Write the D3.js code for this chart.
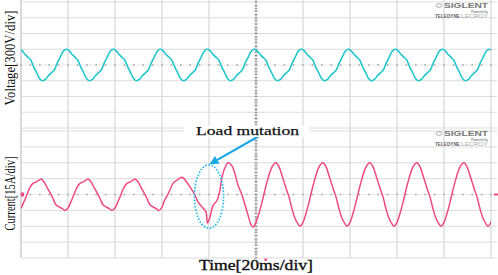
<!DOCTYPE html>
<html><head><meta charset="utf-8">
<script src="https://cdn.jsdelivr.net/npm/d3@7"></script>
<style>html,body{margin:0;padding:0;background:#fff;overflow:hidden}</style>
</head><body><svg id="c" width="498" height="275"></svg>
<script>
// ---- data (time in ms, amplitude in divisions) ----
const timeTicks = [0,20,40,60,80,100,120,140,160,180,200];
const divTicks = [-4,-3,-2,-1,0,1,2,3,4];
const minorTimeTicks = [0,4,8,12,16,20,24,28,32,36,40,44,48,52,56,60,64,68,72,76,80,84,88,92,96,100,104,108,112,116,120,124,128,132,136,140,144,148,152,156,160,164,168,172,176,180,184,188,192,196,200];
const minorDivTicks = [-4,-3.8,-3.6,-3.4,-3.2,-3,-2.8,-2.6,-2.4,-2.2,-2,-1.8,-1.6,-1.4,-1.2,-1,-0.8,-0.6,-0.4,-0.2,0,0.2,0.4,0.6,0.8,1,1.2,1.4,1.6,1.8,2,2.2,2.4,2.6,2.8,3,3.2,3.4,3.6,3.8,4];

const voltageStart = -0.85;   // ms, first sample
const voltageStep = 1.25;     // ms between samples
const voltageValues = [
 1.0,0.92,0.68,0.5,0.32,-0.12,-0.48,-0.86,-1.0,-0.92,-0.68,-0.5,-0.32,0.12,0.48,0.86,
 1.0,0.92,0.68,0.5,0.32,-0.12,-0.48,-0.86,-1.0,-0.92,-0.68,-0.5,-0.32,0.12,0.48,0.86,
 1.0,0.92,0.68,0.5,0.32,-0.12,-0.48,-0.86,-1.0,-0.92,-0.68,-0.5,-0.32,0.12,0.48,0.86,
 1.0,0.92,0.68,0.5,0.32,-0.12,-0.48,-0.86,-1.0,-0.92,-0.68,-0.5,-0.32,0.12,0.48,0.86,
 1.0,0.92,0.68,0.5,0.32,-0.12,-0.48,-0.86,-1.0,-0.92,-0.68,-0.5,-0.32,0.12,0.48,0.86,
 1.0,0.92,0.68,0.5,0.32,-0.12,-0.48,-0.86,-1.0,-0.92,-0.68,-0.5,-0.32,0.12,0.48,0.86,
 1.0,0.92,0.68,0.5,0.32,-0.12,-0.48,-0.86,-1.0,-0.92,-0.68,-0.5,-0.32,0.12,0.48,0.86,
 1.0,0.92,0.68,0.5,0.32,-0.12,-0.48,-0.86,-1.0,-0.92,-0.68,-0.5,-0.32,0.12,0.48,0.86,
 1.0,0.92,0.68,0.5,0.32,-0.12,-0.48,-0.86,-1.0,-0.92,-0.68,-0.5,-0.32,0.12,0.48,0.86,
 1.0,0.92,0.68,0.5,0.32,-0.12,-0.48,-0.86,-1.0,-0.92,-0.68,-0.5,-0.32,0.12,0.48,0.86,
 1.0,0.92,0.68
];

const currentTime = [
 -1.28,0.0,1.27,2.55,3.83,5.1,6.38,7.66,8.51,9.78,11.06,12.34,13.61,14.89,16.17,17.44,
 18.72,20.0,21.27,22.55,23.83,25.1,26.38,27.66,28.51,29.78,31.06,32.34,33.61,34.89,36.17,37.44,
 38.72,40.0,41.27,42.55,43.83,45.1,46.38,47.66,48.51,49.78,51.06,52.34,53.61,54.89,56.17,57.44,
 58.72,60.0,60.85,62.13,63.4,64.68,66.38,68.51,70.64,72.77,74.04,75.32,77.45,78.72,79.36,80.43,81.7,83.4,84.68,85.53,86.81,88.09,89.79,91.06,92.34,94.04,95.32,96.6,97.87,
 98.72,100.0,101.27,102.55,103.83,105.1,106.38,107.66,108.51,109.78,111.06,112.34,113.19,114.04,115.32,116.59,117.87,
 118.72,120.0,121.27,122.55,123.83,125.1,126.38,127.66,128.51,129.78,131.06,132.34,133.19,134.04,135.32,136.59,137.87,
 138.72,140.0,141.27,142.55,143.83,145.1,146.38,147.66,148.51,149.78,151.06,152.34,153.19,154.04,155.32,156.59,157.87,
 158.72,160.0,161.27,162.55,163.83,165.1,166.38,167.66,168.51,169.78,171.06,172.34,173.19,174.04,175.32,176.59,177.87,
 178.72,180.0,181.27,182.55,183.83,185.1,186.38,187.66,188.51,189.78,191.06,192.34,193.19,194.04,195.32,196.59,197.87,
 198.72,200.0,201.27
];
const currentValue = [
 -1.0,-0.85,-0.45,0.0,0.45,0.7,0.78,0.9,0.97,0.8,0.45,0.12,-0.25,-0.65,-0.78,-0.88,
 -1.0,-0.85,-0.45,0.0,0.45,0.7,0.78,0.9,0.97,0.8,0.45,0.12,-0.25,-0.65,-0.78,-0.88,
 -1.0,-0.85,-0.45,0.0,0.45,0.7,0.78,0.9,0.97,0.8,0.45,0.12,-0.25,-0.65,-0.78,-0.88,
 -1.0,-0.8,-0.45,-0.1,0.3,0.7,0.9,1.08,0.75,0.28,-0.03,-0.47,-0.85,-1.1,-1.8,-1.4,-0.7,-0.38,0.28,1.1,1.7,2.0,1.8,1.3,0.6,-0.03,-0.66,-1.3,-1.9,
 -2.05,-1.75,-1.2,-0.5,0.3,1.0,1.6,1.92,2.0,1.75,1.2,0.6,0.2,-0.15,-0.9,-1.5,-1.85,
 -2.0,-1.75,-1.2,-0.5,0.3,1.0,1.6,1.92,2.0,1.75,1.2,0.6,0.2,-0.15,-0.9,-1.5,-1.85,
 -2.0,-1.75,-1.2,-0.5,0.3,1.0,1.6,1.92,2.0,1.75,1.2,0.6,0.2,-0.15,-0.9,-1.5,-1.85,
 -2.0,-1.75,-1.2,-0.5,0.3,1.0,1.6,1.92,2.0,1.75,1.2,0.6,0.2,-0.15,-0.9,-1.5,-1.85,
 -2.0,-1.75,-1.2,-0.5,0.3,1.0,1.6,1.92,2.0,1.75,1.2,0.6,0.2,-0.15,-0.9,-1.5,-1.85,
 -2.0,-1.75,-1.2
];

// annotation anchors in data units (current panel)
const mutationEllipse = {t: 80.0, v: -0.13, halfT: 6.2, halfV: 2.0};
const arrowFrom = {t: 101.5, v: 3.7};
const arrowTo = {t: 80.2, v: 1.9};
const mutationLabel = {t: 74.5, v: 3.75, text: "Load mutation"};

// ---- drawing ----
const svg = d3.select("#c");
const x = d3.scaleLinear().domain([0,200]).range([21,491]);
const yV = d3.scaleLinear().domain([-4,4]).range([128,2]);
const yI = d3.scaleLinear().domain([-4,4]).range([258,131]);

const grid = svg.append("g");
grid.selectAll("line.v").data(timeTicks).join("line")
  .attr("x1", d=>x(d)).attr("x2", d=>x(d)).attr("y1", 0).attr("y2", yI(-4))
  .attr("stroke", d=> d===100 ? "#8a8a8a" : (d===0 ? "#b8b8b8" : "#d4d4d4"))
  .attr("stroke-width", 1.1)
  .attr("stroke-dasharray", d=> d===100 ? "3,1.5" : null);
[yV, yI].forEach(y => {
  grid.append("g").selectAll("line").data(divTicks).join("line")
    .attr("x1", x(0)).attr("x2", 497).attr("y1", d=>y(d)).attr("y2", d=>y(d))
    .attr("stroke", d=> d===0 ? "none" : "#dcdcdc").attr("stroke-width", 1);
  grid.append("line").attr("x1", x(0)).attr("x2", 497).attr("y1", y(0)).attr("y2", y(0))
    .attr("stroke", "#e4e4e4").attr("stroke-width", 0.8);
  grid.append("g").selectAll("rect").data(minorTimeTicks).join("rect")
    .attr("x", d=>x(d)-0.8).attr("y", y(0)-0.8).attr("width", 1.6).attr("height", 1.6)
    .attr("fill", "#a8a8a8");
  grid.append("g").selectAll("rect").data(minorDivTicks).join("rect")
    .attr("x", x(100)-1.6).attr("y", d=>y(d)-0.5).attr("width", 3.2).attr("height", 1)
    .attr("fill", "#9a9a9a");
});

svg.append("defs").append("clipPath").attr("id","clip")
  .append("rect").attr("x", x(0)).attr("y", 0).attr("width", x(200)-x(0)).attr("height", 275);

const vData = voltageValues.map((v,i)=>({t: voltageStart + i*voltageStep, v}));
const iData = currentTime.map((t,i)=>({t, v: currentValue[i]}));

svg.append("path").datum(vData).attr("clip-path","url(#clip)")
  .attr("d", d3.line().x(d=>x(d.t)).y(d=>yV(d.v)).curve(d3.curveCatmullRom))
  .attr("fill","none").attr("stroke","#1fc6cc").attr("stroke-width",1.6);
svg.append("path").datum(iData).attr("clip-path","url(#clip)")
  .attr("d", d3.line().x(d=>x(d.t)).y(d=>yI(d.v)).curve(d3.curveCatmullRom))
  .attr("fill","none").attr("stroke","#ee4a84").attr("stroke-width",1.5);

// pink channel markers
svg.append("rect").attr("x", x(0)).attr("y", yI(0)-2).attr("width", 3).attr("height", 4).attr("fill", "#ee4a84");
svg.append("rect").attr("x", 494).attr("y", yI(0)-1).attr("width", 4).attr("height", 2).attr("fill", "#ee4a84");
svg.append("rect").attr("x", x(104)-1).attr("y", yI(-4)+0.5).attr("width", 2.5).attr("height", 2.5).attr("fill", "#ee4a84");

// logos
function logo(y0){
  const g = svg.append("g").attr("font-family","Liberation Sans, Arial, sans-serif");
  g.append("ellipse").attr("cx", 439).attr("cy", y0+2.5).attr("rx", 3).attr("ry", 1.8).attr("fill","none").attr("stroke","#999").attr("stroke-width",0.8);
  g.append("text").attr("x", 488).attr("y", y0+5).attr("text-anchor","end").attr("font-size",6.5).attr("font-weight","bold").attr("fill","#777").attr("textLength",44).attr("lengthAdjust","spacingAndGlyphs").text("SIGLENT");
  g.append("text").attr("x", 488).attr("y", y0+9.8).attr("text-anchor","end").attr("font-size",3).attr("font-weight","bold").attr("fill","#888").text("Powered by");
  g.append("text").attr("x", 460).attr("y", y0+14.5).attr("text-anchor","end").attr("font-size",4.5).attr("font-weight","bold").attr("fill","#666").attr("textLength",25).attr("lengthAdjust","spacingAndGlyphs").text("TELEDYNE");
  g.append("text").attr("x", 461).attr("y", y0+14.5).attr("font-size",4.5).attr("fill","#aaa").attr("textLength",27).attr("lengthAdjust","spacingAndGlyphs").text("LECROY");
}
logo(3); logo(131);

// annotation
const acol = "#1aa8e4";
svg.append("ellipse")
  .attr("cx", x(mutationEllipse.t)).attr("cy", yI(mutationEllipse.v))
  .attr("rx", x(mutationEllipse.t+mutationEllipse.halfT)-x(mutationEllipse.t))
  .attr("ry", yI(mutationEllipse.v)-yI(mutationEllipse.v+mutationEllipse.halfV))
  .attr("fill","none").attr("stroke","#2ab8ea").attr("stroke-width",1.7).attr("stroke-dasharray","1.6,1.6");
const ax1=x(arrowFrom.t), ay1=yI(arrowFrom.v), ax2=x(arrowTo.t), ay2=yI(arrowTo.v);
const ang = Math.atan2(ay2-ay1, ax2-ax1);
const hl = 9, hw = 4.5;
const bx = ax2 - hl*Math.cos(ang), by = ay2 - hl*Math.sin(ang);
svg.append("line").attr("x1",ax1).attr("y1",ay1).attr("x2",bx).attr("y2",by)
  .attr("stroke",acol).attr("stroke-width",2.2);
svg.append("path").attr("d", `M${ax2},${ay2}L${bx+hw*Math.sin(ang)},${by-hw*Math.cos(ang)}L${bx-hw*Math.sin(ang)},${by+hw*Math.cos(ang)}Z`).attr("fill",acol);

// label with white background
const lx = x(mutationLabel.t), ly = yI(mutationLabel.v);
svg.append("rect").attr("x", lx-12).attr("y", ly-9).attr("width", 125).attr("height", 11).attr("fill","#fff");
svg.append("text").attr("x", lx).attr("y", ly).attr("font-family","Liberation Serif, serif")
  .attr("font-size",13).attr("fill","#111").attr("stroke","#111").attr("stroke-width",0.25)
  .attr("textLength",103).attr("lengthAdjust","spacingAndGlyphs")
  .text(mutationLabel.text);

// axis titles
svg.append("text").attr("transform","translate(15,58) rotate(-90)").attr("text-anchor","middle")
  .attr("font-family","Liberation Serif, serif").attr("font-size",14).attr("fill","#111")
  .attr("textLength",95).attr("lengthAdjust","spacingAndGlyphs").text("Voltage[300V/div]");
svg.append("text").attr("transform","translate(15,193.5) rotate(-90)").attr("text-anchor","middle")
  .attr("font-family","Liberation Serif, serif").attr("font-size",14).attr("fill","#111")
  .attr("textLength",74).attr("lengthAdjust","spacingAndGlyphs").text("Current[15A/div]");
svg.append("text").attr("x", 256).attr("y", 270).attr("text-anchor","middle")
  .attr("font-family","Liberation Serif, serif").attr("font-size",14).attr("fill","#111")
  .attr("stroke","#111").attr("stroke-width",0.35)
  .attr("textLength",114).attr("lengthAdjust","spacingAndGlyphs").text("Time[20ms/div]");
</script></body></html>
